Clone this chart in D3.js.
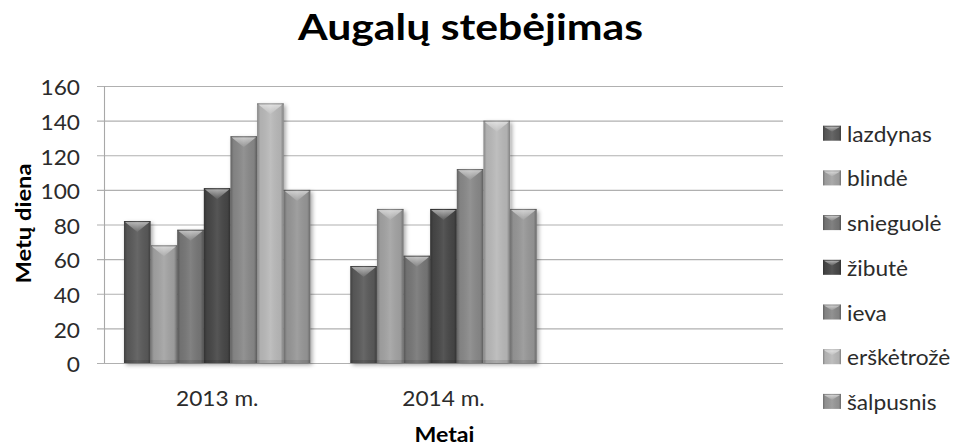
<!DOCTYPE html>
<html><head><meta charset="utf-8">
<script src="https://cdn.jsdelivr.net/npm/d3@7/dist/d3.min.js"></script>
<style>body{margin:0;background:#fff}svg{display:block}</style>
</head><body>
<svg id="chart" width="956" height="446"></svg>
<script>
// ---- data ----
const categories = ["2013 m.", "2014 m.", ""];
const seriesNames = ["lazdynas", "blindė", "snieguolė", "žibutė", "ieva", "erškėtrožė", "šalpusnis"];
const lazdynas   = [82, 56];
const blinde     = [68, 89];
const snieguole  = [77, 62];
const zibute     = [101, 89];
const ieva       = [131, 112];
const erskektroze= [150, 140];
const salpusnis  = [100, 89];
const yTicks = [0, 20, 40, 60, 80, 100, 120, 140, 160];
const titleText = "Augalų stebėjimas";
const xTitle = "Metai";
const yTitle = "Metų diena";
const seriesColors = ["#5a5a5a", "#a3a3a3", "#777777", "#474747", "#898989", "#b9b9b9", "#979797"];

const seriesValues = [lazdynas, blinde, snieguole, zibute, ieva, erskektroze, salpusnis];
const table = [];
seriesNames.forEach((s, i) => seriesValues[i].forEach((v, j) => table.push({series: s, cat: categories[j], value: v, color: seriesColors[i]})));

// ---- layout ----
const svg = d3.select("#chart");
const plot = {left: 104, right: 783, top: 86, bottom: 363};
const font = "Lato, 'Open Sans', sans-serif";

const defs = svg.append("defs");
const sh = defs.append("linearGradient").attr("id", "shade").attr("x1", 0).attr("x2", 1).attr("y1", 0).attr("y2", 0);
[[0, "#000", 0.28], [0.12, "#000", 0.05], [0.5, "#fff", 0.08], [0.88, "#000", 0.05], [1, "#000", 0.3]]
  .forEach(([o, c, a]) => sh.append("stop").attr("offset", o).attr("stop-color", c).attr("stop-opacity", a));
const tg = defs.append("linearGradient").attr("id", "topglow").attr("x1", 0).attr("x2", 0).attr("y1", 0).attr("y2", 1);
[[0, "#fff", 0.55], [1, "#fff", 0.05]]
  .forEach(([o, c, a]) => tg.append("stop").attr("offset", o).attr("stop-color", c).attr("stop-opacity", a));
const f = defs.append("filter").attr("id", "shadow").attr("x", "-20%").attr("y", "-20%").attr("width", "150%").attr("height", "150%");
f.append("feDropShadow").attr("dx", 2).attr("dy", 2).attr("stdDeviation", 2).attr("flood-color", "#000").attr("flood-opacity", 0.35);

const x0 = d3.scaleBand().domain(categories).range([plot.left, plot.right]).padding(0);
const x1 = d3.scaleBand().domain(seriesNames).range([0, x0.bandwidth()]).paddingInner(0).paddingOuter(0.75);
const y = d3.scaleLinear().domain([0, 160]).range([plot.bottom, plot.top]);

// gridlines
svg.append("g").selectAll("line").data(yTicks).join("line")
  .attr("x1", plot.left - 7).attr("x2", plot.right)
  .attr("y1", d => y(d) + 0.5).attr("y2", d => y(d) + 0.5)
  .attr("stroke", "#b0b0b0").attr("stroke-width", 1.1);
// y axis line
svg.append("line").attr("x1", plot.left + 0.5).attr("x2", plot.left + 0.5)
  .attr("y1", y(160)).attr("y2", y(0)).attr("stroke", "#a8a8a8").attr("stroke-width", 1.1);

// y tick labels via axis
const yAxis = svg.append("g").attr("transform", `translate(${plot.left - 24},0)`)
  .call(d3.axisLeft(y).tickValues(yTicks).tickSize(0).tickPadding(0));
yAxis.select(".domain").remove();
yAxis.selectAll("text").attr("font-family", font).attr("font-size", 21).attr("fill", "#2b2b2b").attr("dy", "0.42em").attr("x", 0);

// bars
const bars = svg.append("g").selectAll("g").data(table).join("g")
  .attr("transform", d => `translate(${x0(d.cat) + x1(d.series)},0)`);
const bw = x1.bandwidth();
bars.append("rect").attr("x", 0).attr("width", bw)
  .attr("y", d => y(d.value)).attr("height", d => y(0) - y(d.value))
  .attr("fill", d => d.color).attr("filter", "url(#shadow)");
bars.append("rect").attr("x", 0).attr("width", bw)
  .attr("y", d => y(d.value)).attr("height", d => y(0) - y(d.value))
  .attr("fill", "url(#shade)");
// top bevel: light downward triangle
bars.append("path")
  .attr("d", d => { const t = y(d.value) + 1; return `M1,${t}L${bw - 1},${t}L${bw / 2},${t + 10}Z`; })
  .attr("fill", "url(#topglow)");
bars.append("rect").attr("x", 0).attr("width", bw)
  .attr("y", d => y(d.value)).attr("height", 1.2)
  .attr("fill", "#000").attr("opacity", 0.2);
// bottom band
bars.append("rect").attr("x", 0).attr("width", bw)
  .attr("y", y(0) - 3).attr("height", 3)
  .attr("fill", "#000").attr("opacity", 0.1);

// x labels
const xAxis = svg.append("g").attr("transform", `translate(0,${plot.bottom})`)
  .call(d3.axisBottom(x0).tickValues(categories.filter(c => c)).tickSize(0).tickPadding(0));
xAxis.select(".domain").remove();
xAxis.selectAll("text").attr("font-family", font).attr("font-size", 21).attr("fill", "#2b2b2b").attr("y", 43).attr("dy", 0);

// titles
svg.append("text").attr("class", "title").attr("x", 470.5).attr("y", 40).attr("text-anchor", "middle")
  .attr("font-family", font).attr("font-weight", "bold").attr("font-size", 37).attr("fill", "#000").text(titleText)
  .attr("textLength", 345).attr("lengthAdjust", "spacingAndGlyphs");
svg.append("text").attr("class", "fixed").attr("x", (plot.left + plot.right) / 2 + 1).attr("y", 441.5).attr("text-anchor", "middle")
  .attr("font-family", font).attr("font-weight", "bold").attr("font-size", 21).attr("fill", "#000").text(xTitle)
  .attr("textLength", 60).attr("lengthAdjust", "spacingAndGlyphs");
svg.append("text").attr("class", "fixed").attr("transform", `translate(31,${(plot.top + plot.bottom) / 2 - 1}) rotate(-90)`).attr("text-anchor", "middle")
  .attr("font-family", font).attr("font-weight", "bold").attr("font-size", 21).attr("fill", "#000").text(yTitle)
  .attr("textLength", 120).attr("lengthAdjust", "spacingAndGlyphs");

// legend
const legendY = d3.scalePoint().domain(seriesNames).range([141.7, 141.7 + 6 * 44.7]);
const lg = svg.append("g").selectAll("g").data(seriesNames).join("g")
  .attr("transform", d => `translate(823,${legendY(d)})`);
lg.append("rect").attr("x", 0).attr("y", -16).attr("width", 18).attr("height", 15)
  .attr("fill", (d, i) => seriesColors[i]);
lg.append("rect").attr("x", 0).attr("y", -16).attr("width", 18).attr("height", 15).attr("fill", "url(#shade)");
lg.append("path").attr("d", "M1,-15L17,-15L9,-10Z").attr("fill", "url(#topglow)");
lg.append("text").attr("x", 24).attr("y", 0).attr("font-family", font).attr("font-size", 21).attr("fill", "#2b2b2b").text(d => d);

// horizontal stretch of regular text to mimic reference proportions
function stretch(sel, k) {
  sel.each(function () {
    const w = this.getComputedTextLength();
    this.setAttribute("textLength", (w * k).toFixed(1));
    this.setAttribute("lengthAdjust", "spacingAndGlyphs");
  });
}
stretch(svg.selectAll("text:not(.title):not(.fixed)"), 1.08);
</script>
</body></html>
